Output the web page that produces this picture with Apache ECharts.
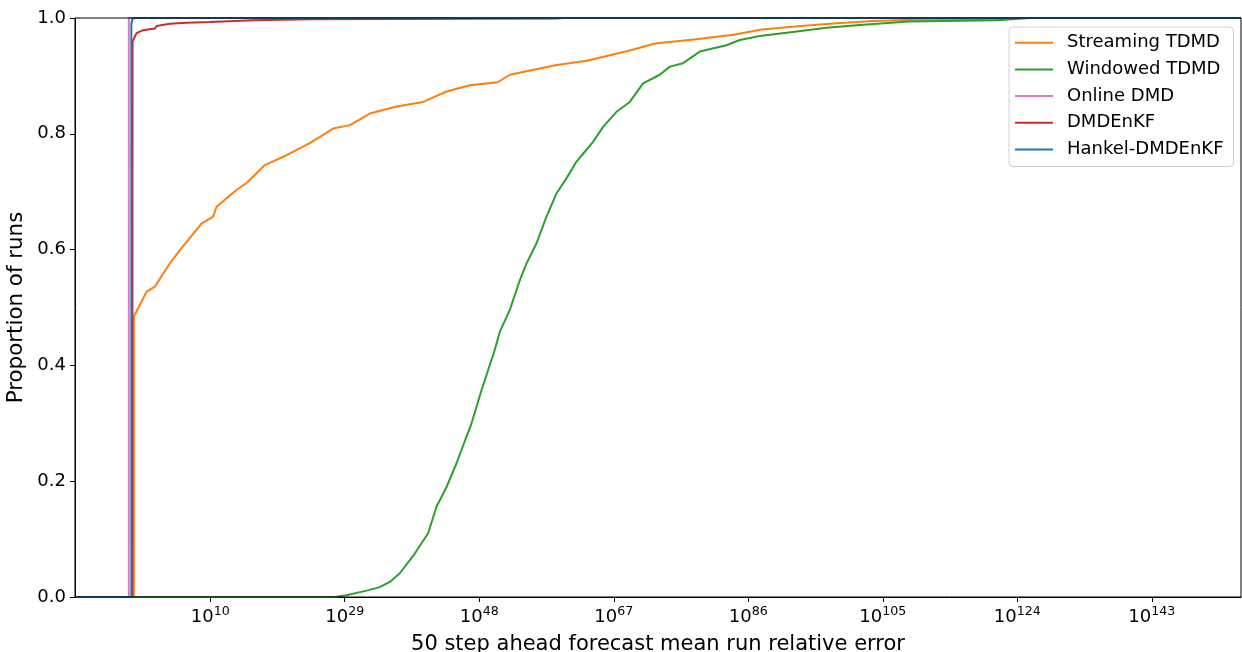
<!DOCTYPE html>
<html>
<head>
<meta charset="utf-8">
<script src="https://cdn.jsdelivr.net/npm/echarts@6/dist/echarts.min.js"></script>
<style>
  html, body { margin: 0; padding: 0; background: #fff; }
  #main { width: 1242px; height: 652px; }
</style>
</head>
<body>
<div id="main"></div>
<script>
// x values are log10 of the error (exponent), y values are the proportion of runs
const xMin = -9.1;
const xMax = 155.6;
const tickExps = [10, 29, 48, 67, 86, 105, 124, 143];

const seriesNames = ['Streaming TDMD', 'Windowed TDMD', 'Online DMD', 'DMDEnKF', 'Hankel-DMDEnKF'];
const seriesColors = ['#ff7f0e', '#2ca02c', '#e377c2', '#d62728', '#1f77b4'];

const streamingExp = [-0.79, -0.79, -0.65, -0.18, 1.0, 2.18, 4.29, 5.71, 8.77, 10.41, 10.89, 13.71, 15.13, 17.71, 20.78, 24.07, 27.36, 29.72, 32.54, 36.31, 40.07, 43.38, 46.67, 50.61, 52.32, 58.93, 63.19, 69.27, 72.8, 78.31, 83.9, 87.91, 93.42, 98.5, 103.59, 109.1, 121.24, 124.5];
const streamingProp = [0, 0.484, 0.488, 0.499, 0.527, 0.536, 0.576, 0.599, 0.645, 0.657, 0.674, 0.703, 0.715, 0.746, 0.763, 0.784, 0.809, 0.815, 0.835, 0.847, 0.855, 0.873, 0.884, 0.889, 0.902, 0.919, 0.926, 0.944, 0.956, 0.963, 0.971, 0.980, 0.986, 0.991, 0.995, 0.997, 0.998, 1.0];

const windowedExp = [27.6, 29.25, 32.08, 33.95, 35.37, 36.78, 38.9, 40.78, 41.96, 43.38, 44.79, 46.91, 48.32, 50.2, 50.9, 52.32, 53.73, 54.68, 56.09, 57.5, 58.91, 60.32, 61.74, 62.91, 64.08, 65.49, 67.39, 69.27, 71.14, 73.5, 74.92, 76.79, 79.15, 82.92, 84.8, 87.63, 92.29, 97.05, 101.75, 108.62, 121.24, 125.76];
const windowedProp = [0, 0.003, 0.011, 0.017, 0.026, 0.041, 0.075, 0.110, 0.156, 0.190, 0.231, 0.300, 0.357, 0.427, 0.458, 0.496, 0.547, 0.576, 0.611, 0.657, 0.697, 0.723, 0.752, 0.769, 0.786, 0.812, 0.838, 0.855, 0.887, 0.902, 0.916, 0.922, 0.942, 0.953, 0.962, 0.969, 0.976, 0.983, 0.988, 0.994, 0.996, 1.0];

const onlineExp = [-1.5, -1.5];
const onlineProp = [0, 1.0];

const dmdenkfExp = [-1.0, -0.97, -0.41, 0.52, 2.18, 2.42, 4.29, 6.65, 9.94, 16.02, 24.45, 58.81, 60.0];
const dmdenkfProp = [0, 0.959, 0.974, 0.979, 0.982, 0.986, 0.990, 0.992, 0.993, 0.996, 0.998, 0.999, 1.0];

const hankelExp = [-1.14, -1.14, -1.0, -0.7];
const hankelProp = [0, 0.99, 0.998, 1.0];

const allExp = [streamingExp, windowedExp, onlineExp, dmdenkfExp, hankelExp];
const allProp = [streamingProp, windowedProp, onlineProp, dmdenkfProp, hankelProp];

const fontFamily = 'DejaVu Sans';

// ecdf runs from -inf (0) to +inf (1)
function buildData(xs, ys) {
  const out = [[xMin, 0]];
  for (let i = 0; i < xs.length; i++) {
    out.push([xs[i], ys[i]]);
  }
  out.push([xMax, 1]);
  return out;
}

const series = [];
for (let i = 0; i < seriesNames.length; i++) {
  series.push({
    name: seriesNames[i],
    type: 'line',
    symbol: 'none',
    animation: false,
    data: buildData(allExp[i], allProp[i]),
    lineStyle: { color: seriesColors[i], width: 2 },
    itemStyle: { color: seriesColors[i] }
  });
}

const myChart = echarts.init(document.getElementById('main'));
const option = {
  backgroundColor: '#fff',
  animation: false,
  textStyle: { fontFamily: fontFamily },
  grid: {
    left: 75,
    right: 1,
    top: 18,
    bottom: 55,
    containLabel: false,
    outerBoundsMode: 'none',
    show: true,
    borderColor: '#000',
    borderWidth: 1,
    z: 10
  },
  legend: {
    orient: 'vertical',
    left: 1009,
    top: 27,
    padding: [5.7, 10, 7, 6],
    icon: 'rect',
    itemWidth: 38,
    itemHeight: 2,
    itemGap: 6.7,
    backgroundColor: 'rgba(255,255,255,0.8)',
    borderColor: '#d0d0d0',
    borderWidth: 1,
    borderRadius: 4,
    textStyle: {
      fontFamily: fontFamily,
      fontSize: 18,
      lineHeight: 20,
      color: '#000',
      padding: [0, 0, 0, 9]
    },
    data: seriesNames
  },
  xAxis: {
    type: 'value',
    min: xMin,
    max: xMax,
    name: '50 step ahead forecast mean run relative error',
    nameLocation: 'middle',
    nameGap: 37,
    nameTextStyle: { fontFamily: fontFamily, fontSize: 21, color: '#000' },
    axisLine: { show: true, onZero: false, lineStyle: { color: '#000', width: 1 } },
    axisTick: {
      show: true,
      length: 5,
      customValues: tickExps,
      lineStyle: { color: '#000' }
    },
    axisLabel: {
      customValues: tickExps,
      margin: 8,
      color: '#000',
      formatter: function (v) {
        return '{base|10}{sup|' + v + '}';
      },
      rich: {
        base: { fontFamily: fontFamily, fontSize: 18, color: '#000', verticalAlign: 'bottom' },
        sup: { fontFamily: fontFamily, fontSize: 12.6, color: '#000', verticalAlign: 'bottom', padding: [0, 0, 8, 0] }
      }
    },
    splitLine: { show: false }
  },
  yAxis: {
    type: 'value',
    min: 0,
    max: 1,
    interval: 0.2,
    name: 'Proportion of runs',
    nameLocation: 'middle',
    nameGap: 40,
    nameTextStyle: { fontFamily: fontFamily, fontSize: 21.4, color: '#000' },
    axisLine: { show: true, onZero: false, lineStyle: { color: '#000', width: 1 } },
    axisTick: { show: true, length: 5, lineStyle: { color: '#000' } },
    axisLabel: {
      margin: 9,
      fontSize: 18,
      color: '#000',
      fontFamily: fontFamily,
      formatter: function (v) { return v.toFixed(1); }
    },
    splitLine: { show: false }
  },
  series: series
};
myChart.setOption(option);
</script>
</body>
</html>
